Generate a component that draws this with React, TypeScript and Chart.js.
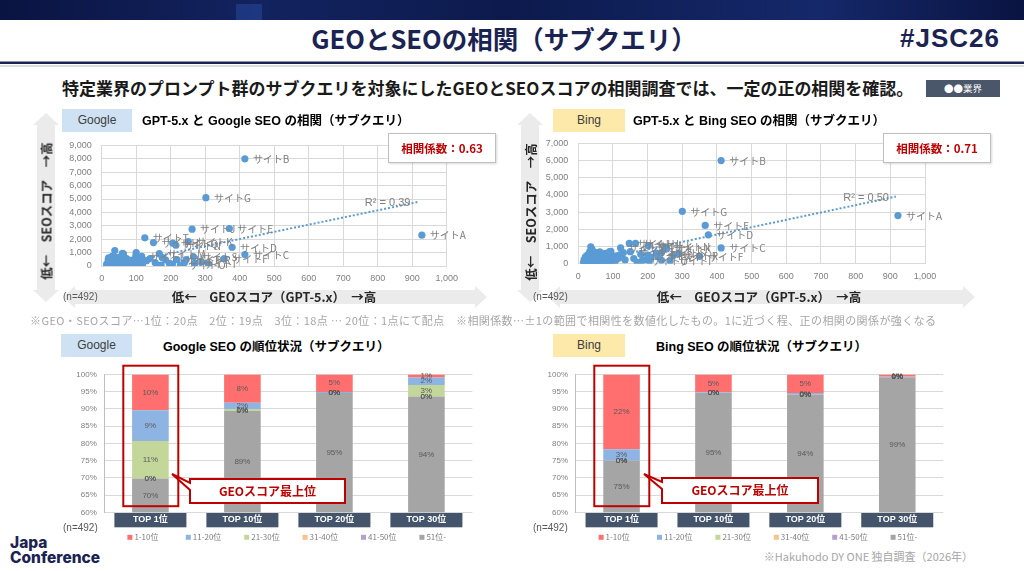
import React, { useEffect, useRef } from 'react';
import { Chart, registerables } from 'chart.js';

Chart.register(...registerables);

const JP = "'Noto Sans CJK JP', 'Noto Sans', sans-serif";
const NUM = "'Liberation Sans', 'Noto Sans CJK JP', sans-serif";
Chart.defaults.font.family = NUM;

/* ================= DATA ================= */
const siteNames = ['サイトA', 'サイトB', 'サイトC', 'サイトD', 'サイトE', 'サイトF', 'サイトG', 'サイトH', 'サイトI', 'サイトJ', 'サイトK', 'サイトL', 'サイトM', 'サイトN', 'サイトO', 'サイトP', 'サイトQ', 'サイトR', 'サイトS', 'サイトT'];

// Google scatter (x: GEO score, y: SEO score)
const googleSiteGeo = [928, 415, 415, 378, 370, 355, 302, 150, 270, 262, 251, 116, 167, 215, 228, 218, 206, 245, 266, 125];
const googleSiteSeo = [2300, 8000, 850, 1400, 2800, 560, 5100, 1750, 190, 2750, 1820, 720, 920, 1550, 60, 480, 1700, 480, 680, 2100];
const googleOtherPoints = [
  [14, 120], [16, 40], [18, 260], [19, 500], [21, 80], [22, 330], [23, 180], [25, 20], [26, 420], [28, 150],
  [29, 600], [31, 60], [32, 280], [34, 480], [35, 210], [37, 120], [38, 1150], [40, 350], [42, 30], [43, 560],
  [45, 240], [46, 420], [48, 90], [50, 300], [51, 650], [53, 160], [55, 20], [56, 440], [58, 260], [60, 950],
  [62, 110], [63, 380], [65, 520], [67, 200], [69, 60], [71, 330], [73, 480], [75, 150], [78, 40], [80, 280],
  [83, 420], [85, 120], [88, 250], [91, 80], [94, 350], [97, 190], [100, 1000], [104, 60], [108, 420], [112, 230],
  [118, 130], [20, 600], [24, 380], [30, 720], [36, 250], [41, 640], [47, 520], [54, 140], [59, 700], [66, 40],
  [72, 560], [79, 350], [86, 80], [93, 480], [101, 220], [110, 610], [63, 900], [99, 780], [106, 557], [116, 300],
  [140, 557], [172, 72], [196, 195], [185, 450], [155, 250], [130, 400], [175, 640], [290, 300], [310, 120], [240, 250],
  [205, 150], [160, 60],
];
const googleTrendGeo = [24, 915];
const googleTrendSeo = [0, 4770];
const googleR2 = 'R² = 0.39';
const googleCorr = '相関係数：0.63';
const googleSeoMax = 9000;

// Bing scatter
const bingSiteGeo = [922, 412, 412, 375, 366, 350, 300, 147, 265, 165, 255, 202, 122, 250, 185, 230, 200, 275, 240, 150];
const bingSiteSeo = [2800, 6000, 920, 1680, 2230, 430, 3050, 1180, 170, 1180, 870, 1050, 920, 980, 190, 400, 500, 490, 630, 700];
const bingOtherPoints = [
  [15, 80], [17, 250], [18, 40], [20, 160], [21, 420], [23, 90], [24, 300], [26, 20], [27, 520], [29, 180],
  [30, 350], [32, 60], [33, 700], [35, 240], [36, 980], [37, 450], [39, 120], [40, 820], [42, 300], [43, 30],
  [45, 560], [46, 200], [48, 380], [50, 100], [52, 640], [53, 260], [55, 40], [57, 480], [58, 180], [60, 330],
  [62, 680], [64, 90], [66, 420], [68, 250], [70, 520], [72, 140], [74, 360], [76, 60], [78, 600], [80, 220],
  [83, 400], [85, 110], [88, 300], [90, 700], [92, 180], [95, 500], [97, 50], [100, 380], [103, 250], [106, 120],
  [110, 450], [115, 300], [120, 520], [125, 380], [135, 220], [160, 300], [180, 550], [195, 240], [210, 380], [225, 620],
  [240, 200], [170, 80], [205, 150], [290, 600], [130, 650], [94, 714], [62, 676],
];
const bingTrendGeo = [20, 916];
const bingTrendSeo = [70, 3905];
const bingR2 = 'R² = 0.50';
const bingCorr = '相関係数：0.71';
const bingSeoMax = 7000;

const geoMax = 1000;

// Rank share (%) per category; legend order 1-10位 ... 51位-
const rankCategories = ['TOP 1位', 'TOP 10位', 'TOP 20位', 'TOP 30位'];
const rankSeriesNames = ['1-10位', '11-20位', '21-30位', '31-40位', '41-50位', '51位-'];

const googleRank1_10 = [10.4, 8.2, 5.1, 0.9];
const googleRank11_20 = [8.9, 1.8, 0.3, 2.2];
const googleRank21_30 = [10.9, 0.6, 0, 3.3];
const googleRank31_40 = [0, 0, 0, 0];
const googleRank41_50 = [0, 0, 0, 0];
const googleRank51 = [69.8, 89.4, 94.6, 93.6];

const bingRank1_10 = [21.7, 5.2, 5.4, 0.6];
const bingRank11_20 = [3.3, 0.2, 0.4, 0];
const bingRank21_30 = [0, 0, 0, 0];
const bingRank31_40 = [0, 0, 0, 0];
const bingRank41_50 = [0, 0, 0, 0.2];
const bingRank51 = [75.0, 94.6, 94.2, 99.2];

/* ================= STYLES ================= */
const rankColors = ['#ff6f6f', '#8db4e3', '#c4d79b', '#fac08f', '#b3a2c7', '#a5a5a5'];
const pointColor = '#5b9bd5';
const gridColor = '#d9d9d9';
const tickColor = '#808080';

/* ================= PLUGINS ================= */
const scatterLabelPlugin = {
  id: 'scatterLabels',
  afterDatasetsDraw(chart: any) {
    const ctx = chart.ctx;
    chart.data.datasets.forEach((ds: any, di: number) => {
      const meta = chart.getDatasetMeta(di);
      if (ds.siteNames) {
        ctx.save();
        ctx.font = `10px ${JP}`;
        ctx.fillStyle = '#808080';
        ctx.textAlign = 'left';
        ctx.textBaseline = 'middle';
        meta.data.forEach((el: any, i: number) => ctx.fillText(ds.siteNames[i], el.x + 8, el.y + 0.5));
        ctx.restore();
      }
      if (ds.r2) {
        const end = meta.data[meta.data.length - 1];
        ctx.save();
        ctx.font = `11px ${NUM}`;
        ctx.fillStyle = '#808080';
        ctx.textAlign = 'right';
        ctx.textBaseline = 'middle';
        ctx.fillText(ds.r2, end.x - 7, end.y + 1);
        ctx.restore();
      }
    });
  },
};

const barDecorPlugin = {
  id: 'barDecor',
  beforeDraw(chart: any) {
    const ctx = chart.ctx;
    const xs = chart.scales.x;
    ctx.save();
    ctx.fillStyle = '#44546a';
    chart.data.labels.forEach((_: any, i: number) => {
      const cx = xs.getPixelForTick(i);
      ctx.fillRect(cx - 36, xs.top, 72, 15);
    });
    ctx.restore();
  },
  afterDatasetsDraw(chart: any) {
    const ctx = chart.ctx;
    const area = chart.chartArea;
    ctx.save();
    ctx.font = `8px ${NUM}`;
    ctx.fillStyle = '#595959';
    ctx.textAlign = 'center';
    ctx.textBaseline = 'middle';
    chart.data.datasets.forEach((ds: any, di: number) => {
      const meta = chart.getDatasetMeta(di);
      meta.data.forEach((el: any, i: number) => {
        const top = Math.max(Math.min(el.y, el.base), area.top);
        const bot = Math.min(Math.max(el.y, el.base), area.bottom);
        ctx.fillText(Math.round(ds.data[i]) + '%', el.x, (top + bot) / 2);
      });
    });
    ctx.restore();
  },
  afterDraw(chart: any) {
    const ctx = chart.ctx;
    const area = chart.chartArea;
    const items = [...chart.data.datasets].reverse();
    const y = area.bottom + 25;
    ctx.save();
    ctx.font = `8px ${JP}`;
    ctx.textBaseline = 'middle';
    ctx.textAlign = 'left';
    items.forEach((d: any, i: number) => {
      const x = area.left + 23 + i * 58.4;
      ctx.fillStyle = d.backgroundColor;
      ctx.fillRect(x, y - 2.5, 5, 5);
      ctx.fillStyle = '#7f7f7f';
      ctx.fillText(d.label, x + 7, y);
    });
    ctx.restore();
  },
};

/* ================= COMPONENTS ================= */
type Geo = { left: number; top: number; width: number; height: number; yAxisW: number; xAxisH: number; padTop: number; padRight: number; padBottom?: number };

function ScatterPanel(p: { siteGeo: number[]; siteSeo: number[]; others: number[][]; trendGeo: number[]; trendSeo: number[]; r2: string; yMax: number; g: Geo }) {
  const ref = useRef<HTMLCanvasElement>(null);
  useEffect(() => {
    const sites = p.siteGeo.map((x, i) => ({ x, y: p.siteSeo[i] }));
    const others = p.others.map(([x, y]) => ({ x, y }));
    const trend = p.trendGeo.map((x, i) => ({ x, y: p.trendSeo[i] }));
    const chart = new Chart(ref.current as HTMLCanvasElement, {
      type: 'scatter',
      data: {
        datasets: [
          { data: sites, backgroundColor: pointColor, pointRadius: 3.6, borderWidth: 0, siteNames } as any,
          { data: others, backgroundColor: pointColor, pointRadius: 3.6, borderWidth: 0 } as any,
          { type: 'line', data: trend, borderColor: pointColor, borderWidth: 2, borderDash: [2, 2], pointRadius: 0, fill: false, r2: p.r2 } as any,
        ],
      },
      options: {
        responsive: false,
        animation: false,
        layout: { padding: { top: p.g.padTop, right: p.g.padRight, left: 0, bottom: 0 } },
        plugins: { legend: { display: false }, tooltip: { enabled: false } },
        scales: {
          x: {
            type: 'linear', min: 0, max: geoMax,
            ticks: { stepSize: 100, autoSkip: false, padding: 7, color: tickColor, font: { size: 9, family: NUM }, callback: (v: any) => Number(v).toLocaleString('en-US') },
            grid: { color: gridColor, drawTicks: false },
            border: { color: gridColor },
            afterFit: (s: any) => { s.height = p.g.xAxisH; },
          },
          y: {
            type: 'linear', min: 0, max: p.yMax,
            ticks: { stepSize: 1000, autoSkip: false, padding: 10, color: tickColor, font: { size: 9, family: NUM }, callback: (v: any) => Number(v).toLocaleString('en-US') },
            grid: { color: gridColor, drawTicks: false },
            border: { color: gridColor },
            afterFit: (s: any) => { s.width = p.g.yAxisW; },
          },
        },
      } as any,
      plugins: [scatterLabelPlugin],
    });
    return () => chart.destroy();
  }, []);
  return <canvas ref={ref} width={p.g.width} height={p.g.height} style={{ position: 'absolute', left: p.g.left, top: p.g.top, width: p.g.width, height: p.g.height, zIndex: 1 }} />;
}

function RankPanel(p: { series: number[][]; g: Geo }) {
  const ref = useRef<HTMLCanvasElement>(null);
  useEffect(() => {
    const datasets = rankSeriesNames.map((name, i) => ({ label: name, data: p.series[i], backgroundColor: rankColors[i], borderWidth: 0 })).reverse();
    const chart = new Chart(ref.current as HTMLCanvasElement, {
      type: 'bar',
      data: { labels: rankCategories, datasets },
      options: {
        responsive: false,
        animation: false,
        layout: { padding: { top: p.g.padTop, right: p.g.padRight, left: 0, bottom: p.g.padBottom || 0 } },
        plugins: { legend: { display: false }, tooltip: { enabled: false } },
        datasets: { bar: { barPercentage: 0.398, categoryPercentage: 1 } },
        scales: {
          x: {
            stacked: true,
            grid: { display: false, drawTicks: false },
            border: { display: false },
            ticks: { color: '#ffffff', padding: 2, font: { size: 9, weight: 'bold', family: NUM } },
            afterFit: (s: any) => { s.height = p.g.xAxisH; },
          },
          y: {
            stacked: true, min: 60, max: 100,
            ticks: { stepSize: 5, autoSkip: false, padding: 7.6, color: tickColor, font: { size: 8, family: NUM }, callback: (v: any) => v + '%' },
            grid: { color: gridColor, drawTicks: false },
            border: { color: '#bfbfbf' },
            afterFit: (s: any) => { s.width = p.g.yAxisW; },
          },
        },
      } as any,
      plugins: [barDecorPlugin],
    });
    return () => chart.destroy();
  }, []);
  return <canvas ref={ref} width={p.g.width} height={p.g.height} style={{ position: 'absolute', left: p.g.left, top: p.g.top, width: p.g.width, height: p.g.height, zIndex: 1 }} />;
}

function T(p: { x: number; y: number; size: number; children: any; weight?: any; color?: string; align?: 'left' | 'center' | 'right'; family?: string; z?: number; ls?: number }) {
  const tx = p.align === 'center' ? 'translateX(-50%)' : p.align === 'right' ? 'translateX(-100%)' : 'none';
  return (
    <div style={{ position: 'absolute', left: p.x, top: p.y - p.size * 0.7, height: p.size * 1.4, lineHeight: `${p.size * 1.4}px`, fontSize: p.size, fontWeight: p.weight || 400, color: p.color || '#000', fontFamily: p.family || JP, whiteSpace: 'nowrap', transform: tx, zIndex: p.z ?? 2, letterSpacing: p.ls || 0 }}>
      {p.children}
    </div>
  );
}

function VText(p: { x: number; y: number; children: any }) {
  return (
    <div style={{ position: 'absolute', left: p.x, top: p.y, transform: 'translate(-50%,-50%) rotate(-90deg)', fontSize: 12.5, fontWeight: 700, color: '#262626', fontFamily: JP, whiteSpace: 'nowrap', zIndex: 2 }}>
      {p.children}
    </div>
  );
}

function Tag(p: { x: number; y: number; w: number; h: number; bg: string; text: string }) {
  return (
    <div style={{ position: 'absolute', left: p.x, top: p.y, width: p.w, height: p.h, background: p.bg, color: '#404040', fontFamily: NUM, fontSize: 12, lineHeight: `${p.h}px`, textAlign: 'center', zIndex: 2 }}>{p.text}</div>
  );
}

function CorrBox(p: { x: number; y: number; text: string }) {
  return (
    <div style={{ position: 'absolute', left: p.x, top: p.y, width: 106, height: 28, background: '#fff', border: '1px solid #bfbfbf', boxShadow: '1px 1px 2px rgba(0,0,0,0.15)', color: '#c00000', fontFamily: JP, fontWeight: 700, fontSize: 11.5, lineHeight: '28px', textAlign: 'center', zIndex: 3 }}>{p.text}</div>
  );
}

function vArrow(cx: number, y1: number, y2: number) {
  return `M${cx},${y1} L${cx + 13},${y1 + 12} L${cx + 9},${y1 + 12} L${cx + 9},${y2 - 12} L${cx + 13},${y2 - 12} L${cx},${y2} L${cx - 13},${y2 - 12} L${cx - 9},${y2 - 12} L${cx - 9},${y1 + 12} L${cx - 13},${y1 + 12} Z`;
}
function hArrow(x1: number, x2: number, cy: number) {
  return `M${x1},${cy} L${x1 + 12},${cy - 11} L${x1 + 12},${cy - 7} L${x2 - 12},${cy - 7} L${x2 - 12},${cy - 11} L${x2},${cy} L${x2 - 12},${cy + 11} L${x2 - 12},${cy + 7} L${x1 + 12},${cy + 7} L${x1 + 12},${cy + 11} Z`;
}
function callout(x: number, y: number, w: number, h: number, tipX: number, tipY: number) {
  return `M${x},${y} H${x + w} V${y + h} H${x} V${y + 11} L${tipX},${tipY} L${x},${y + 4} Z`;
}

export default function App() {
  useEffect(() => {
    document.body.style.margin = '0';
  }, []);
  const googleSeries = [googleRank1_10, googleRank11_20, googleRank21_30, googleRank31_40, googleRank41_50, googleRank51];
  const bingSeries = [bingRank1_10, bingRank11_20, bingRank21_30, bingRank31_40, bingRank41_50, bingRank51];
  return (
    <div style={{ position: 'absolute', left: 0, top: 0, width: 1024, height: 571, overflow: 'hidden', background: '#fff', fontFamily: JP }}>
      {/* background layer */}
      <svg width={1024} height={571} style={{ position: 'absolute', left: 0, top: 0, zIndex: 0 }}>
        <defs>
          <linearGradient id="band" x1="0" y1="0" x2="1" y2="0">
            <stop offset="0" stopColor="#0a1442" />
            <stop offset="0.25" stopColor="#13235f" />
            <stop offset="0.5" stopColor="#0c1a4d" />
            <stop offset="0.8" stopColor="#15286a" />
            <stop offset="1" stopColor="#0a1442" />
          </linearGradient>
        </defs>
        <rect x={0} y={0} width={1024} height={20} fill="url(#band)" />
        <rect x={236} y={4} width={26} height={16} fill="#2a4fa8" opacity={0.45} />
        <rect x={0} y={61.5} width={1024} height={2.5} fill="#1b2352" />
        <rect x={0} y={65.5} width={1024} height={1} fill="#b8bccb" />
        <path d={vArrow(46, 113, 302)} fill="#ebebeb" />
        <path d={hArrow(63, 487, 297)} fill="#ebebeb" />
        <path d={vArrow(530, 113, 302)} fill="#ebebeb" />
        <path d={hArrow(548, 975, 297)} fill="#ebebeb" />
        <rect x={926} y={80} width={74} height={17} fill="#4a5669" />
      </svg>

      {/* header */}
      <T x={504} y={38} size={25.5} weight={700} color="#1b2352" align="center">GEOとSEOの相関（サブクエリ）</T>
      <T x={1000} y={38} size={26} weight={700} color="#1b2352" align="right" family={NUM} ls={1}>#JSC26</T>
      <T x={62} y={88} size={17} weight={700} color="#1a1a1a">特定業界のプロンプト群のサブクエリを対象にしたGEOとSEOスコアの相関調査では、一定の正の相関を確認。</T>
      <T x={963} y={88.5} size={9.5} color="#ffffff" align="center">●●業界</T>

      {/* top-left scatter */}
      <Tag x={62} y={109} w={70} h={23} bg="#cfe2f3" text="Google" />
      <T x={142} y={122} size={12.5} weight={700} family={NUM}>GPT-5.x と Google SEO の相関（サブクエリ）</T>
      <ScatterPanel siteGeo={googleSiteGeo} siteSeo={googleSiteSeo} others={googleOtherPoints} trendGeo={googleTrendGeo} trendSeo={googleTrendSeo} r2={googleR2} yMax={googleSeoMax}
        g={{ left: 55, top: 130, width: 430, height: 160, yAxisW: 46.7, xAxisH: 24, padTop: 11.7, padRight: 38.3 }} />
      <CorrBox x={388} y={133} text={googleCorr} />
      <VText x={46} y={211}>低←　SEOスコア　→高</VText>
      <T x={274} y={297} size={12.5} weight={700} color="#262626" align="center">低←　GEOスコア（GPT-5.x）　→高</T>
      <T x={63} y={297} size={10} color="#595959" family={NUM}>(n=492)</T>

      {/* top-right scatter */}
      <Tag x={553} y={109} w={72} h={23} bg="#fde9a9" text="Bing" />
      <T x={633} y={122} size={12.5} weight={700} family={NUM}>GPT-5.x と Bing SEO の相関（サブクエリ）</T>
      <ScatterPanel siteGeo={bingSiteGeo} siteSeo={bingSiteSeo} others={bingOtherPoints} trendGeo={bingTrendGeo} trendSeo={bingTrendSeo} r2={bingR2} yMax={bingSeoMax}
        g={{ left: 530, top: 128, width: 460, height: 162, yAxisW: 48.3, xAxisH: 26.3, padTop: 11.3, padRight: 65 }} />
      <CorrBox x={883} y={133} text={bingCorr} />
      <VText x={530} y={212}>低←　SEOスコア　→高</VText>
      <T x={759} y={297} size={12.5} weight={700} color="#262626" align="center">低←　GEOスコア（GPT-5.x）　→高</T>
      <T x={533} y={297} size={10} color="#595959" family={NUM}>(n=492)</T>

      {/* footnote */}
      <T x={30} y={321} size={11} color="#a6a6a6" ls={0.4}>※GEO・SEOスコア…1位：20点　2位：19点　3位：18点 … 20位：1点にて配点　※相関係数…±1の範囲で相関性を数値化したもの。1に近づく程、正の相関の関係が強くなる</T>

      {/* bottom-left bars */}
      <Tag x={61} y={334} w={71} h={23} bg="#cfe2f3" text="Google" />
      <T x={163} y={348} size={12.5} weight={700} family={NUM}>Google SEO の順位状況（サブクエリ）</T>
      <RankPanel series={googleSeries} g={{ left: 55, top: 362, width: 430, height: 185, yAxisW: 49.4, xAxisH: 17, padTop: 8.7, padRight: 12.6, padBottom: 17.7 }} />
      <T x={63} y={528} size={10} color="#595959" family={NUM}>(n=492)</T>

      {/* bottom-right bars */}
      <Tag x={553} y={334} w={72} h={23} bg="#fde9a9" text="Bing" />
      <T x={656} y={348} size={12.5} weight={700} family={NUM}>Bing SEO の順位状況（サブクエリ）</T>
      <RankPanel series={bingSeries} g={{ left: 525, top: 362, width: 430, height: 185, yAxisW: 50.6, xAxisH: 17, padTop: 8.7, padRight: 11.8, padBottom: 17.7 }} />
      <T x={533} y={528} size={10} color="#595959" family={NUM}>(n=492)</T>

      {/* footer */}
      <T x={973} y={557} size={11} color="#a6a6a6" align="right">※Hakuhodo DY ONE 独自調査（2026年）</T>
      <T x={10} y={543} size={15.5} weight={800} color="#1b2352" family="Inter, sans-serif">Japa</T>
      <T x={10} y={558} size={15.5} weight={800} color="#1b2352" family="Inter, sans-serif">Conference</T>

      {/* highlight layer */}
      <svg width={1024} height={571} style={{ position: 'absolute', left: 0, top: 0, zIndex: 3, pointerEvents: 'none' }}>
        <rect x={123.3} y={365.7} width={55} height={140.5} fill="none" stroke="#c00000" strokeWidth={2} />
        <path d={callout(190, 479, 155, 24, 172, 474)} fill="#fff" stroke="#c00000" strokeWidth={2} />
        <rect x={594.3} y={365.7} width={55} height={140.5} fill="none" stroke="#c00000" strokeWidth={2} />
        <path d={callout(662, 478, 156, 25, 644, 474)} fill="#fff" stroke="#c00000" strokeWidth={2} />
      </svg>
      <T x={267.5} y={491} size={12} weight={700} color="#c00000" align="center" z={4}>GEOスコア最上位</T>
      <T x={740} y={490.5} size={12} weight={700} color="#c00000" align="center" z={4}>GEOスコア最上位</T>
    </div>
  );
}
